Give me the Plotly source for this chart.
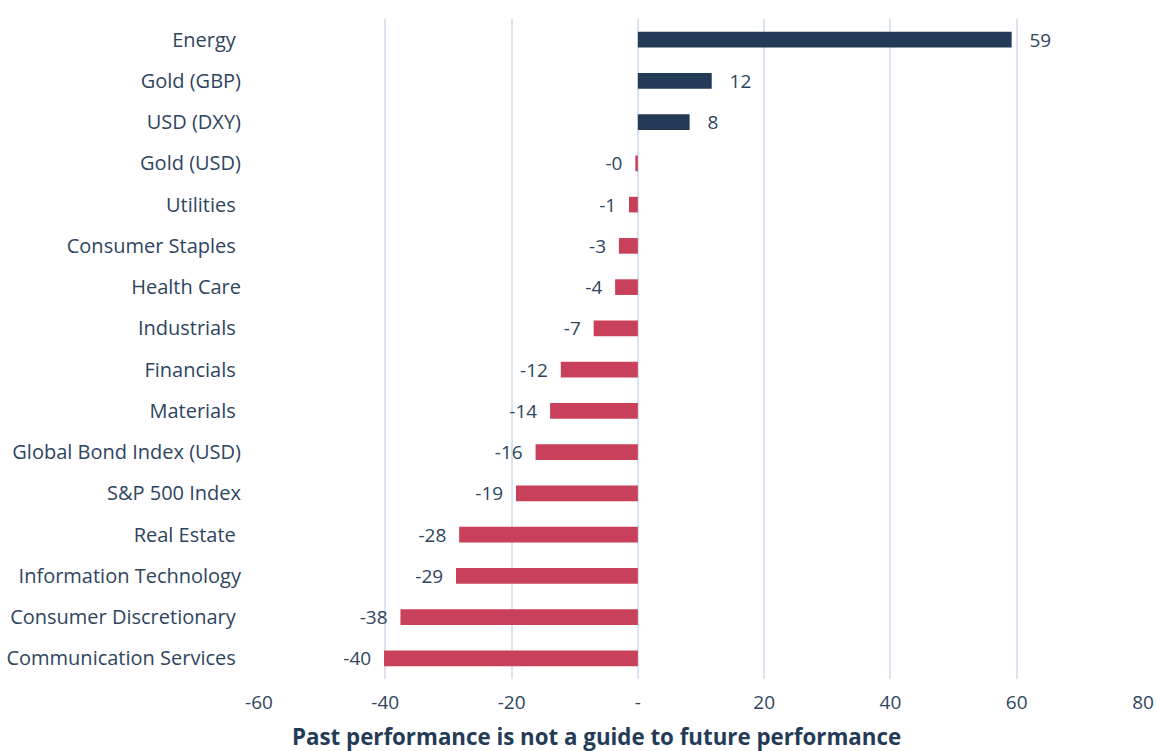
import plotly.graph_objects as go

categories = [
    "Energy ", "Gold (GBP)", "USD (DXY)", "Gold (USD)", "Utilities ",
    "Consumer Staples ", "Health Care", "Industrials ", "Financials ",
    "Materials ", "Global Bond Index (USD)", "S&P 500 Index", "Real Estate ",
    "Information Technology", "Consumer Discretionary ", "Communication Services ",
]
values = [59.2, 11.7, 8.2, -0.4, -1.4, -3.0, -3.6, -7.0, -12.2, -13.9,
          -16.2, -19.3, -28.3, -28.8, -37.6, -40.2]
x_tickvals = [-60, -40, -20, 0, 20, 40, 60, 80]
x_ticktext = ["-60", "-40", "-20", "-", "20", "40", "60", "80"]

NAVY = "#243B58"
RED = "#C8405A"
TEXT = "#2E4560"
GRID = "#D9E4F0"
NB = "\u00a0"
FONT = "Open Sans"

labels = [NB * 3 + f"{v:.0f}" if v >= 0 else f"{v:.0f}" + NB * 2 for v in values]
colors = [NAVY if v >= 0 else RED for v in values]
ticktext_y = [c.replace(" ", NB) if c.endswith(" ") else c for c in categories]

fig = go.Figure(go.Bar(
    x=values, y=categories, orientation="h",
    marker=dict(color=colors, line=dict(width=0)),
    width=0.38,
    text=labels, textposition="outside", constraintext="none",
    textfont=dict(size=19, color=TEXT, family=FONT),
    cliponaxis=False,
    hoverinfo="skip",
))

fig.update_layout(
    width=1157, height=751,
    margin=dict(l=259, r=14, t=19, b=72, autoexpand=False),
    paper_bgcolor="white", plot_bgcolor="white",
    font=dict(family=FONT, size=19, color=TEXT),
    showlegend=False,
    annotations=[dict(
        text="<b>Past performance is not a guide to future performance</b>",
        xref="paper", yref="paper", x=0.382, y=0, yshift=-57,
        xanchor="center", yanchor="middle", showarrow=False,
        font=dict(size=22.3, color=NAVY, family=FONT),
    )],
)
fig.update_xaxes(
    range=[-60, 80], tickvals=x_tickvals, ticktext=x_ticktext,
    showgrid=True, gridcolor=GRID, gridwidth=1.5,
    zeroline=True, zerolinecolor=GRID, zerolinewidth=1.5,
    showline=False, ticks="", ticklabelstandoff=10, automargin=False,
    tickfont=dict(size=19, color=TEXT),
)
fig.update_yaxes(
    categoryorder="array", categoryarray=categories,
    tickvals=categories, ticktext=ticktext_y,
    autorange="reversed", showgrid=False, showline=False, ticks="",
    ticklabelstandoff=17, automargin=False,
    tickfont=dict(size=20, color=TEXT),
)

fig.write_html("out.html", config={"displayModeBar": False},
               post_script="document.body.style.margin='0';")
